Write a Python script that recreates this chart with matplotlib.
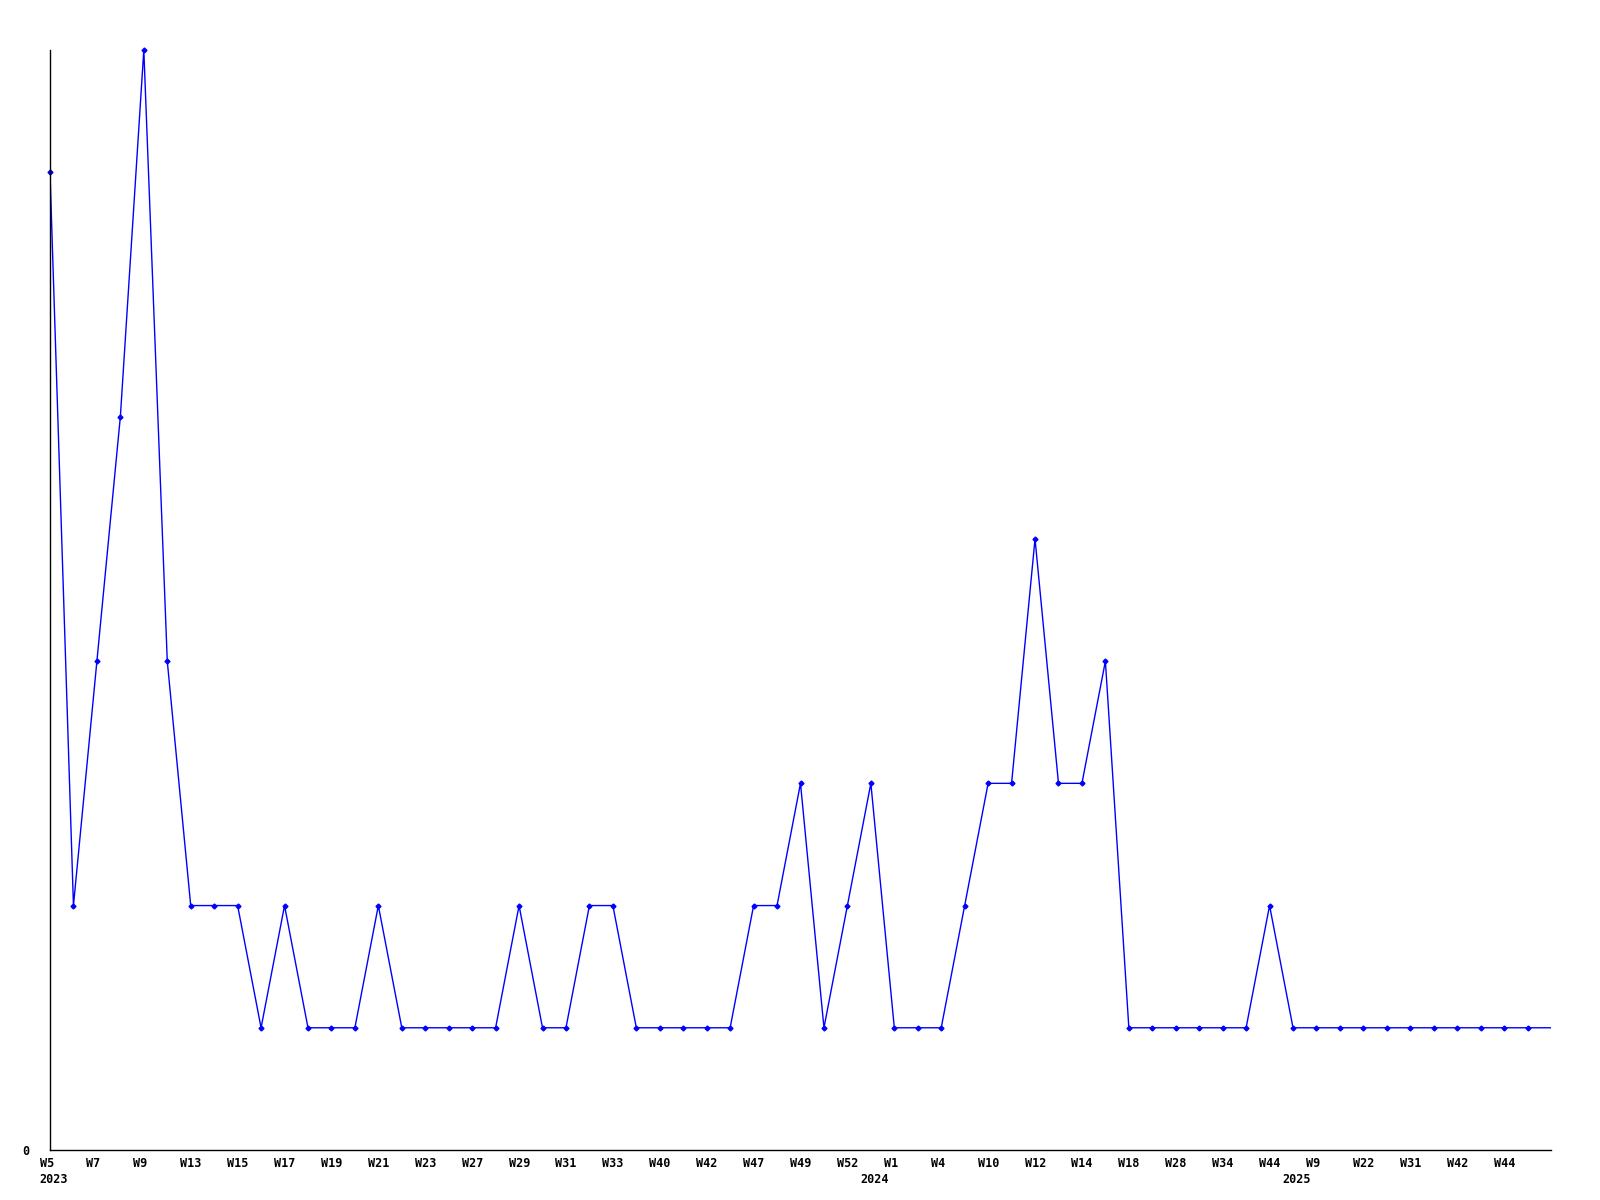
import matplotlib
matplotlib.use("Agg")
import matplotlib.pyplot as plt
import matplotlib.transforms as mtransforms

# weekly counts (one value per data point, last value continues the line to the edge)
values = [8, 2, 4, 6, 9, 4, 2, 2, 2, 1,
          2, 1, 1, 1, 2, 1, 1, 1, 1, 1,
          2, 1, 1, 2, 2, 1, 1, 1, 1, 1,
          2, 2, 3, 1, 2, 3, 1, 1, 1, 2,
          3, 3, 5, 3, 3, 4, 1, 1, 1, 1,
          1, 1, 2, 1, 1, 1, 1, 1, 1, 1,
          1, 1, 1, 1, 1]
n_markers = 64

week_labels = ["W5", "W7", "W9", "W13", "W15", "W17", "W19", "W21", "W23", "W27",
               "W29", "W31", "W33", "W40", "W42", "W47", "W49", "W52", "W1", "W4",
               "W10", "W12", "W14", "W18", "W28", "W34", "W44", "W9", "W22", "W31",
               "W42", "W44"]
year_labels = ["2023", "2024", "2025"]
year_positions = [0, 35, 53]

fig = plt.figure(figsize=(16, 12), dpi=100)
ax = fig.add_axes([50 / 1600, 50 / 1200, (1551 - 50) / 1600, (1150 - 50) / 1200])

x = list(range(len(values)))
ax.plot(x, values, color="#0000ff", linewidth=1.0, clip_on=True)
ax.plot(x[:n_markers], values[:n_markers], linestyle="none", marker="D",
        markersize=2.5, color="#0000ff", clip_on=False)

ax.set_xlim(0, 64)
ax.set_ylim(0, 9)

for s in ["top", "right"]:
    ax.spines[s].set_visible(False)
for s in ["left", "bottom"]:
    ax.spines[s].set_color("black")
    ax.spines[s].set_linewidth(1.0)

font = dict(family="DejaVu Sans Mono", fontweight="bold", fontsize=8.5)

ax.set_xticks(list(range(0, 64, 2)))
ax.set_xticklabels(week_labels, ha="left", **font)
ax.tick_params(axis="x", length=0, pad=5)
shift = mtransforms.ScaledTranslation(-10.5 / 100, 0, fig.dpi_scale_trans)
for lab in ax.get_xticklabels():
    lab.set_transform(lab.get_transform() + shift)
ax.set_yticks([0])
ax.set_yticklabels(["0"], **font)
ax.tick_params(axis="y", length=0, pad=15)

trans = mtransforms.blended_transform_factory(ax.transData, ax.transAxes)
for lab, pos in zip(year_labels, year_positions):
    ax.text(pos, -0.021, lab, transform=trans + shift, ha="left", va="top", **font)

fig.savefig("out.png", dpi=100, facecolor="white")
